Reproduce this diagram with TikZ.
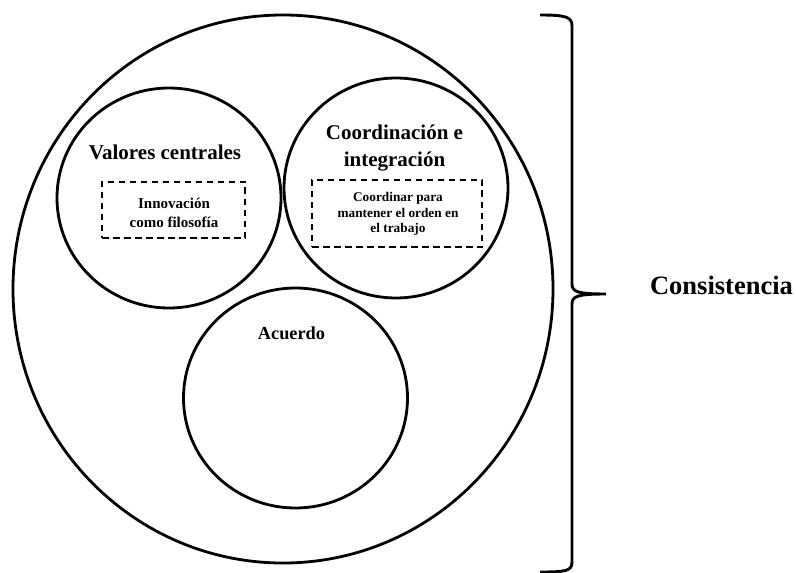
\documentclass[tikz,border=0pt]{standalone}
\usepackage{fontspec}
\setmainfont{Liberation Serif}
\usetikzlibrary{shapes.geometric}
\begin{document}
\begin{tikzpicture}[x=1bp,y=-1bp,
  ring/.style={draw, ellipse, line width=2.8bp, inner sep=0pt},
  inner ring/.style={ring, minimum width=224bp, minimum height=220bp},
  notebox/.style={draw, dash pattern=on 6.5bp off 4.5bp, line width=1.9bp, inner sep=0pt},
  label text/.style={align=center, anchor=base, inner sep=0pt},
  heading/.style={label text, font=\bfseries\fontsize{21bp}{27bp}\selectfont},
  note/.style={label text, font=\bfseries\fontsize{15bp}{19.5bp}\selectfont},
  small note/.style={label text, font=\bfseries\fontsize{13.3bp}{15.5bp}\selectfont},
  bracket/.style={draw, line width=2.9bp}
]
\useasboundingbox (0,0) rectangle (796,573);

% outer circle and the three inner circles
\node[ring, minimum width=540bp, minimum height=548bp] (whole) at (283,289) {};
\node[inner ring] (valores) at (169,198) {};
\node[inner ring] (coord) at (396,188) {};
\node[inner ring] (acuerdo) at (295.5,398) {};

% dashed notes
\node[notebox, minimum width=143bp, minimum height=56bp] (boxA) at (173.5,210) {};
\node[notebox, minimum width=170bp, minimum height=67bp] (boxB) at (397,213.5) {};

% texts (multi-line nodes sit on the baseline of their last line)
\node[heading] (tValores) at (165,160) {Valores centrales};
\node[heading] (tCoord) at (394.5,167) {Coordinación e\\integración};
\node[note] (tInnov) at (174,228) {Innovación\\como filosofía};
\node[small note] (tCoordinar) at (398,233) {Coordinar para\\mantener el orden en\\el trabajo};
\node[label text, font=\bfseries\fontsize{18.3bp}{22bp}\selectfont] (tAcuerdo) at (291.5,339) {Acuerdo};
\node[label text, font=\bfseries\fontsize{26.5bp}{32bp}\selectfont] (tCons) at (721.5,294) {Consistencia};

% right curly bracket
\path[bracket] (540,15) .. controls (566,15) and (572,17) .. (572,26)
  -- (572,284) .. controls (572,292) and (578,294) .. (606,294)
  .. controls (578,294) and (572,296) .. (572,304)
  -- (572,562) .. controls (572,571) and (566,572) .. (540,572);
\end{tikzpicture}
\end{document}
